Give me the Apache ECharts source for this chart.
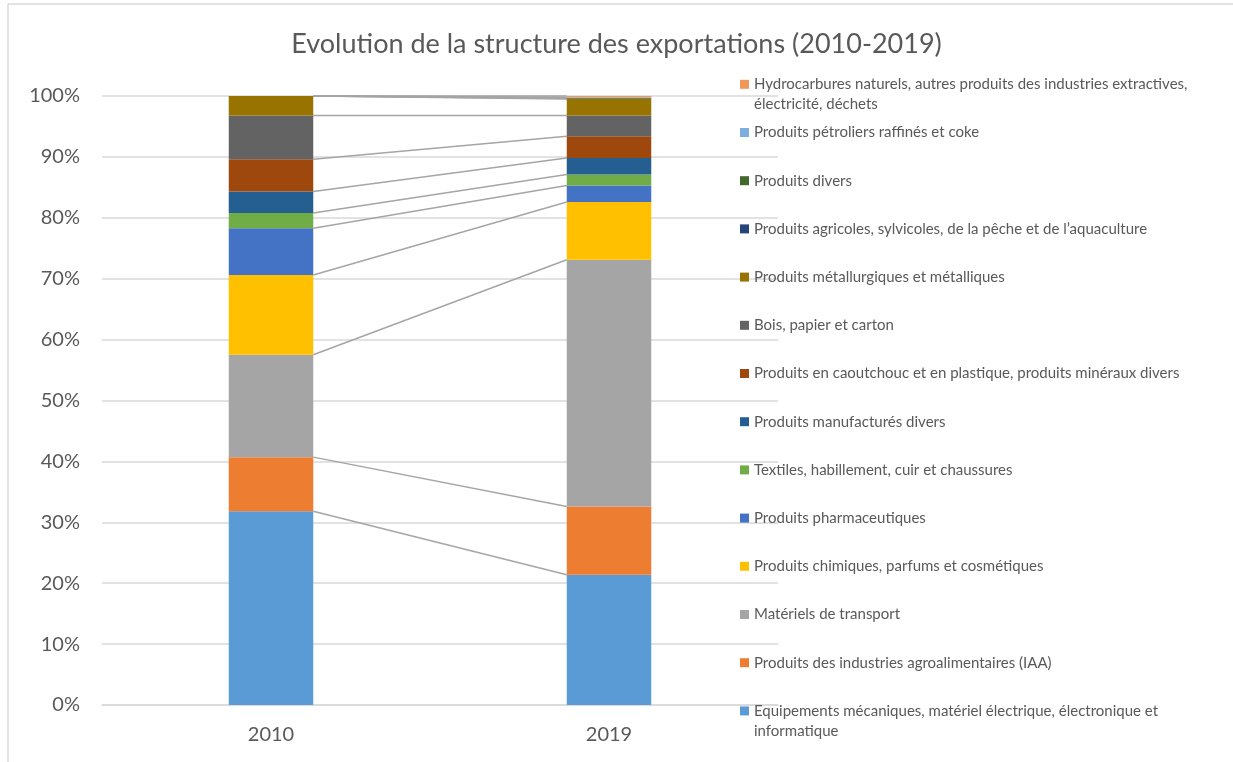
<!DOCTYPE html>
<html>
<head>
<meta charset="utf-8">
<script src="https://cdn.jsdelivr.net/npm/echarts@6/dist/echarts.min.js"></script>
<style>
html,body{margin:0;padding:0;background:#fff;}
#chart{width:1233px;height:762px;}
</style>
</head>
<body>
<div id="chart"></div>
<script>
// ---- Data ----
const categories = ['2010', '2019'];
const seriesNames = [
  'Equipements mécaniques, matériel électrique, électronique et\ninformatique',
  'Produits des industries agroalimentaires (IAA)',
  'Matériels de transport',
  'Produits chimiques, parfums et cosmétiques',
  'Produits pharmaceutiques',
  'Textiles, habillement, cuir et chaussures',
  'Produits manufacturés divers',
  'Produits en caoutchouc et en plastique, produits minéraux divers',
  'Bois, papier et carton',
  'Produits métallurgiques et métalliques',
  'Produits agricoles, sylvicoles, de la pêche et de l’aquaculture',
  'Produits divers',
  'Produits pétroliers raffinés et coke',
  'Hydrocarbures naturels, autres produits des industries extractives,\nélectricité, déchets'
];
const values2010 = [31.8, 8.9, 16.8, 13.1, 7.7, 2.5, 3.5, 5.3, 7.2, 3.2, 0, 0, 0, 0];
const values2019 = [21.4, 11.2, 40.5, 9.5, 2.7, 1.8, 2.7, 3.6, 3.4, 2.7, 0.1, 0.1, 0.1, 0.2];
const yTicks = [0, 10, 20, 30, 40, 50, 60, 70, 80, 90, 100];
const colors = ['#5B9BD5', '#ED7D31', '#A5A5A5', '#FFC000', '#4472C4', '#70AD47',
  '#255E91', '#9E480E', '#636363', '#997300', '#264478', '#43682B', '#7CAFDD', '#F1975A'];

// ---- Build ----
function cumulative(arr) { let s = 0; return arr.map(v => (s += v)); }
const cum2010 = cumulative(values2010);
const cum2019 = cumulative(values2019);

const FONT = 'Lato, "Open Sans", sans-serif';
const barSeries = seriesNames.map((name, i) => ({
  name: name,
  type: 'bar',
  stack: 'total',
  barWidth: '25%',
  itemStyle: { color: colors[i] },
  emphasis: { disabled: true },
  data: [values2010[i], values2019[i]]
}));

const seriesLines = {
  type: 'custom',
  name: 'seriesLines',
  silent: true,
  z: 1,
  data: seriesNames.map((n, i) => [0, cum2010[i]]),
  renderItem: function (params, api) {
    const i = params.dataIndex;
    const p1 = api.coord([categories[0], cum2010[i]]);
    const p2 = api.coord([categories[1], cum2019[i]]);
    const half = api.size([1, 0])[0] * 0.125;
    return {
      type: 'line',
      shape: { x1: p1[0] + half, y1: p1[1], x2: p2[0] - half, y2: p2[1] },
      style: { stroke: '#A5A5A5', lineWidth: 1.5 }
    };
  }
};

// legends: one per item, top to bottom in reverse series order
const legendOrder = seriesNames.slice().reverse();
const legends = legendOrder.map((name, k) => {
  const center = 84.3 + 48.2 * k;
  const twoLine = name.indexOf('\n') >= 0;
  return {
    data: [name],
    orient: 'vertical',
    left: 740,
    top: twoLine ? center - 30 : center - 10,
    padding: 0,
    itemWidth: 9,
    itemHeight: 9,
    icon: 'rect',
    selectedMode: false,
    formatter: twoLine ? function (n) { return '\n' + n; } : '{name}',
    textStyle: { color: '#595959', fontFamily: FONT, fontSize: 15, lineHeight: 20 }
  };
});

const chart = echarts.init(document.getElementById('chart'), null, { renderer: 'canvas' });
chart.setOption({
  animation: false,
  backgroundColor: '#ffffff',
  title: {
    text: 'Evolution de la structure des exportations (2010-2019)',
    left: 'center',
    top: 31,
    padding: 0,
    textStyle: { color: '#595959', fontFamily: FONT, fontSize: 27, fontWeight: 'normal' }
  },
  legend: legends,
  grid: { left: 102, right: 455, top: 96, bottom: 57, containLabel: false },
  xAxis: {
    type: 'category',
    data: categories,
    axisTick: { show: false },
    axisLine: { lineStyle: { color: '#D9D9D9', width: 1.5 } },
    axisLabel: { color: '#595959', fontFamily: FONT, fontSize: 20, margin: 20 }
  },
  yAxis: {
    type: 'value',
    min: yTicks[0],
    max: yTicks[yTicks.length - 1],
    interval: yTicks[1] - yTicks[0],
    axisLine: { show: false },
    axisTick: { show: false },
    splitLine: { lineStyle: { color: '#D9D9D9', width: 1.5 } },
    axisLabel: { color: '#595959', fontFamily: FONT, fontSize: 20, margin: 22, formatter: '{value}%' }
  },
  graphic: [
    { type: 'line', shape: { x1: 8, y1: 4, x2: 8, y2: 762 }, style: { stroke: '#D9D9D9', lineWidth: 1.5 } },
    { type: 'line', shape: { x1: 8, y1: 4, x2: 1233, y2: 4 }, style: { stroke: '#D9D9D9', lineWidth: 1.5 } }
  ],
  series: barSeries.concat([seriesLines])
});
</script>
</body>
</html>
